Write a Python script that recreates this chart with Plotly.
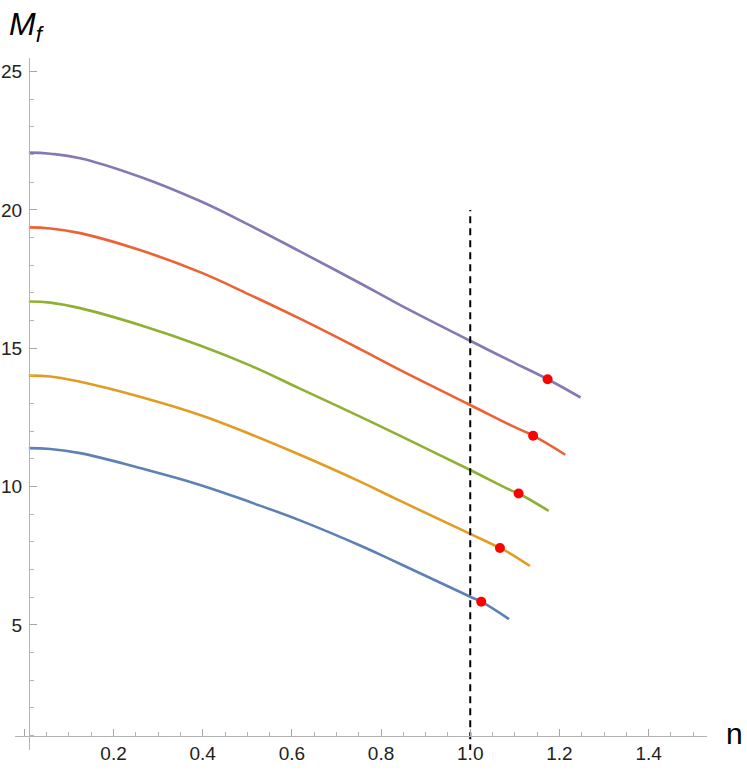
import plotly.graph_objects as go

# ---- data ----
n_grid = [0.01, 0.058, 0.125, 0.259, 0.394, 0.506, 0.618, 0.753, 0.842, 1.0]
M_blue   = [11.39, 11.36, 11.21, 10.67, 10.06, 9.44, 8.78, 7.87, 7.21, 6.02]
M_orange = [14.01, 13.98, 13.79, 13.25, 12.59, 11.90, 11.15, 10.18, 9.49, 8.29]
M_green  = [16.69, 16.65, 16.45, 15.84, 15.10, 14.38, 13.54, 12.53, 11.84, 10.60]
M_red    = [19.37, 19.33, 19.16, 18.55, 17.75, 16.93, 16.07, 14.97, 14.22, 12.95]
M_purple = [22.07, 22.03, 21.87, 21.20, 20.32, 19.44, 18.50, 17.35, 16.57, 15.27]

# readings at n = 1.089 (blue has already ended there)
mid_n = 1.089
mid_M = [None, 7.59, 9.88, 12.23, 14.55]

dot_n = [1.0247, 1.0666, 1.1085, 1.141, 1.1735]
dot_M = [5.84, 7.78, 9.75, 11.84, 13.88]
end_n = [1.087, 1.134, 1.176, 1.213, 1.2475]
end_M = [5.21, 7.13, 9.12, 11.15, 13.22]

ref_n = 1.0
ref_M = [0.0, 20.0]

x_ticks = [0, 0.2, 0.4, 0.6, 0.8, 1.0, 1.2, 1.4]
x_ticktext = ["", "0.2", "0.4", "0.6", "0.8", "1.0", "1.2", "1.4"]
y_ticks = [5, 10, 15, 20, 25]

series = [M_blue, M_orange, M_green, M_red, M_purple]
colors = ["#5E81B5", "#E19C24", "#8FB032", "#EB6235", "#8778B3"]

x_range = [-0.021, 1.531]
y_range = [0.48, 25.49]
axes_cross = [0.0105, 1.0]

fig = go.Figure()
for i, (vals, col) in enumerate(zip(series, colors)):
    pts = list(zip(n_grid, vals)) + [(dot_n[i], dot_M[i]), (end_n[i], end_M[i])]
    if mid_M[i] is not None:
        pts.append((mid_n, mid_M[i]))
    pts.sort()
    fig.add_trace(go.Scatter(
        x=[p[0] for p in pts],
        y=[p[1] for p in pts],
        mode="lines",
        line=dict(color=col, width=2.6, shape="spline", smoothing=1.2),
        showlegend=False, hoverinfo="skip",
    ))

fig.add_trace(go.Scatter(
    x=[ref_n, ref_n], y=ref_M, mode="lines",
    line=dict(color="black", width=2, dash="7px,5px"),
    showlegend=False, hoverinfo="skip",
))

fig.add_trace(go.Scatter(
    x=dot_n, y=dot_M, mode="markers",
    marker=dict(color="#FF0000", size=10, line=dict(width=0)),
    showlegend=False, hoverinfo="skip",
))

font = dict(family="Liberation Sans, Arial, sans-serif", size=19, color="#222222")

fig.update_layout(
    width=747, height=772,
    margin=dict(l=15, r=40, t=58, b=22),
    plot_bgcolor="white", paper_bgcolor="white",
    font=font,
    xaxis=dict(
        range=x_range, showgrid=False, zeroline=False, automargin=False,
        showline=True, linecolor="#b3b3b3", linewidth=1.2,
        anchor="free",
        position=(axes_cross[1] - y_range[0]) / (y_range[1] - y_range[0]),
        tickmode="array", tickvals=x_ticks, ticktext=x_ticktext,
        ticks="inside", ticklen=7, tickwidth=1, tickcolor="#a6a6a6",
        minor=dict(tickmode="linear", tick0=0, dtick=0.05, ticks="inside",
                   ticklen=4, tickwidth=1, tickcolor="#b3b3b3", showgrid=False),
        tickfont=font,
    ),
    yaxis=dict(
        range=y_range, showgrid=False, zeroline=False, automargin=False,
        showline=True, linecolor="#b3b3b3", linewidth=1.2,
        anchor="free",
        position=(axes_cross[0] - x_range[0]) / (x_range[1] - x_range[0]),
        tickmode="array", tickvals=y_ticks,
        ticks="inside", ticklen=7, tickwidth=1, tickcolor="#a6a6a6",
        minor=dict(tickmode="linear", tick0=0, dtick=1, ticks="inside",
                   ticklen=4, tickwidth=1, tickcolor="#b3b3b3", showgrid=False),
        tickfont=font,
        ticklabelstandoff=3,
    ),
    annotations=[
        dict(text="<i>M<sub>f</sub></i>", xref="paper", yref="paper",
             x=-0.011, y=1.045, xanchor="left", yanchor="middle", showarrow=False,
             font=dict(family="Liberation Sans, Arial, sans-serif", size=32, color="black")),
        dict(text="n", xref="paper", yref="paper",
             x=1.040, y=0.024, xanchor="center", yanchor="middle", showarrow=False,
             font=dict(family="Liberation Sans, Arial, sans-serif", size=30, color="black")),
    ],
)

fig.write_html("out.html", config={"displayModeBar": False},
               post_script="document.body.style.margin='0px';")
